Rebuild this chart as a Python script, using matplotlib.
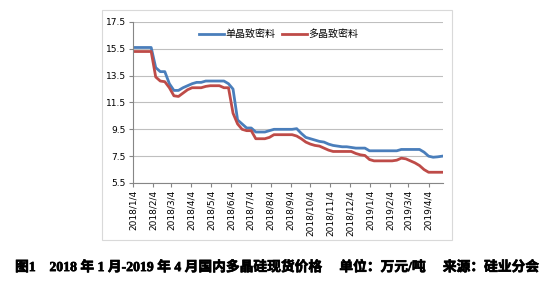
import matplotlib.pyplot as plt
import matplotlib.patheffects as pe
import pandas as pd

plt.rcParams['font.family'] = ['DejaVu Sans', 'Noto Sans CJK SC']

# 周度数据 2018/1/4 - 2019/4/25
dates = pd.date_range('2018-01-04', periods=69, freq='7D')

mono = [15.6, 15.6, 15.6, 15.6, 15.6, 14.1, 13.8, 13.8, 12.9, 12.4,
        12.4, 12.6, 12.75, 12.9, 13.0, 13.0, 13.1, 13.1, 13.1, 13.1,
        13.1, 12.9, 12.5, 10.2, 9.9, 9.6, 9.6, 9.3, 9.3, 9.3,
        9.4, 9.5, 9.5, 9.5, 9.5, 9.5, 9.55, 9.2, 8.9, 8.8,
        8.7, 8.6, 8.55, 8.4, 8.3, 8.25, 8.2, 8.2, 8.15, 8.1,
        8.1, 8.1, 7.9, 7.9, 7.9, 7.9, 7.9, 7.9, 7.9, 8.0,
        8.0, 8.0, 8.0, 8.0, 7.8, 7.5, 7.42, 7.45, 7.5]

poly = [15.3, 15.3, 15.3, 15.3, 15.3, 13.4, 13.1, 13.05, 12.6, 12.0,
        11.95, 12.2, 12.45, 12.6, 12.6, 12.6, 12.7, 12.75, 12.75, 12.75,
        12.6, 12.6, 10.7, 9.9, 9.5, 9.4, 9.4, 8.8, 8.8, 8.8,
        8.9, 9.1, 9.1, 9.1, 9.1, 9.1, 9.0, 8.8, 8.55, 8.4,
        8.3, 8.25, 8.1, 7.95, 7.85, 7.85, 7.85, 7.85, 7.85, 7.7,
        7.6, 7.55, 7.25, 7.15, 7.15, 7.15, 7.15, 7.15, 7.2, 7.35,
        7.3, 7.15, 7.0, 6.8, 6.5, 6.3, 6.3, 6.3, 6.3]

series_names = ['单晶致密料', '多晶致密料']
tick_dates = pd.date_range('2018-01-01', periods=16, freq='MS') + pd.Timedelta(days=3)
tick_labels = [f'{d.year}/{d.month}/{d.day}' for d in tick_dates]
y_ticks = [5.5, 7.5, 9.5, 11.5, 13.5, 15.5, 17.5]

caption = '图1　2018 年 1 月-2019 年 4 月国内多晶硅现货价格　 单位：万元/吨　 来源：硅业分会'

fig = plt.figure(figsize=(5.55, 2.89), dpi=100)

# 外框
frame = plt.Rectangle((0.184, 0.170), 0.630, 0.795, transform=fig.transFigure,
                      fill=False, edgecolor='#d9d9d9', linewidth=0.8)
fig.patches.append(frame)

ax = fig.add_axes([0.2396, 0.3668, 0.5584, 0.5571])
ax.plot(dates, mono, color='#4a7ebb', linewidth=2.0, label=series_names[0])
ax.plot(dates, poly, color='#be4b48', linewidth=2.0, label=series_names[1])

ax.set_ylim(5.5, 17.5)
ax.set_yticks(y_ticks)
ax.set_yticklabels([f'{v:.1f}' for v in y_ticks], fontsize=6.5)
ax.set_xlim(pd.Timestamp('2018-01-04'), pd.Timestamp('2019-04-26'))
ax.set_xticks(tick_dates)
ax.set_xticklabels(tick_labels, rotation=90, fontsize=6.5)

ax.grid(axis='y', color='#bfbfbf', linewidth=0.8)
ax.set_axisbelow(True)
for s in ['top', 'right']:
    ax.spines[s].set_visible(False)
for s in ['left', 'bottom']:
    ax.spines[s].set_color('#868686')
    ax.spines[s].set_linewidth(0.8)
ax.tick_params(colors='#868686', length=3, width=0.8, labelcolor='black', pad=2)

ax.legend(loc='center', bbox_to_anchor=(0.47, 0.925), ncol=2, frameon=False,
          handlelength=2.5, columnspacing=0.6, handletextpad=0.2,
          prop={'family': 'Noto Sans CJK SC', 'size': 7.2})

fig.text(0.5, 0.075, caption, ha='center', va='center', fontsize=9.9, fontweight='bold',
         family=['Liberation Serif', 'Noto Sans CJK SC'],
         path_effects=[pe.withStroke(linewidth=0.5, foreground='black')])

fig.savefig('out.png', dpi=100)
